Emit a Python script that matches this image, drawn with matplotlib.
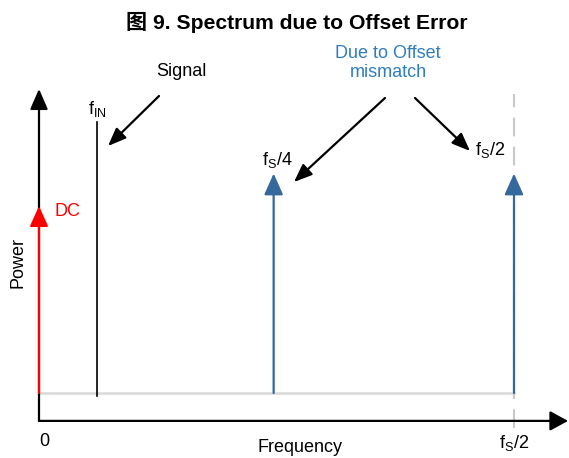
import matplotlib
matplotlib.use('Agg')
import matplotlib.pyplot as plt
from matplotlib.patches import ArrowStyle

plt.rcParams['font.family'] = ['Liberation Sans', 'Noto Sans CJK SC', 'DejaVu Sans']
plt.rcParams['mathtext.fontset'] = 'custom'
plt.rcParams['mathtext.rm'] = 'Liberation Sans'
plt.rcParams['mathtext.it'] = 'Liberation Sans'

# spectral lines: frequency (fraction of fs) and relative power (signal = 1)
tone_names = ['DC', 'Signal', 'fs/4 spur', 'fs/2 spur']
tone_freq = [0.0, 0.061, 0.247, 0.5]
tone_power = [0.69, 1.0, 0.81, 0.81]
noise_floor = 0.0
axis_level = -0.103
axis_top = 1.122
nyquist = 0.5

W, H = 569, 458
fig = plt.figure(figsize=(W / 100, H / 100), dpi=100)
ax = fig.add_axes([0, 0, 1, 1])
ax.set_xlim(-0.04105, 0.5579)
ax.set_ylim(-0.2399, 1.4502)
ax.axis('off')


def fxy(x, y):
    # pixel position -> figure fraction, used for the free-floating labels
    return (x / W, 1 - y / H)


def arrow(x0, y0, x1, y1, color, lw, hl, hw, z=3):
    ax.annotate('', xy=(x1, y1), xytext=(x0, y0),
                arrowprops=dict(arrowstyle=ArrowStyle('-|>', head_length=hl, head_width=hw),
                                color=color, lw=lw, shrinkA=0, shrinkB=0,
                                mutation_scale=20),
                annotation_clip=False, zorder=z)


# axes with arrow heads
arrow(0, axis_level, 0, axis_top, 'black', 1.6, 0.62, 0.27, z=2)
arrow(0, axis_level, 0.5569, axis_level, 'black', 1.6, 0.55, 0.3, z=2)

# noise floor and nyquist marker
ax.plot([0, nyquist], [noise_floor, noise_floor], color='#d9d9d9', lw=1.8, zorder=1)
ax.plot([nyquist, nyquist], [-0.129, 1.103], color='#c8c8c8', lw=1.5,
        linestyle=(0, (9, 5)), zorder=1)

# DC (red), signal (thin black line), offset spurs (blue)
arrow(tone_freq[0], noise_floor, tone_freq[0], tone_power[0], '#ff0000', 1.6, 0.62, 0.28)
ax.plot([tone_freq[1], tone_freq[1]], [-0.012, tone_power[1]], color='black', lw=1.2, zorder=3)
for f, p in zip(tone_freq[2:], tone_power[2:]):
    arrow(f, noise_floor, f, p, '#35689c', 1.6, 0.65, 0.29)

# pointer arrows from the labels
for (x0, y0, x1, y1) in [(159, 96, 108, 146), (385, 98, 294, 182), (415, 98, 470, 151)]:
    ax.annotate('', xy=fxy(x1, y1), xytext=fxy(x0, y0), xycoords='figure fraction',
                textcoords='figure fraction',
                arrowprops=dict(arrowstyle=ArrowStyle('-|>', head_length=0.55, head_width=0.22),
                                color='black', lw=1.6, shrinkA=0, shrinkB=0, mutation_scale=20))

fs = 13
fig.text(*fxy(297, 22), '图 9. Spectrum due to Offset Error', fontsize=15.2,
         fontweight='bold', ha='center', va='center')
fig.text(*fxy(181, 72), 'Signal', fontsize=fs, ha='center', va='center')
fig.text(*fxy(388, 63), 'Due to Offset\nmismatch', fontsize=fs, ha='center', va='center',
         color='#2f7dc0', linespacing=1.2)
fig.text(*fxy(97, 109), r'$\mathregular{f_{IN}}$', fontsize=fs, ha='center', va='center')
fig.text(*fxy(277, 160), r'$\mathregular{f_S/4}$', fontsize=fs, ha='center', va='center')
fig.text(*fxy(490, 150), r'$\mathregular{f_S/2}$', fontsize=fs, ha='center', va='center')
fig.text(*fxy(67, 212), 'DC', fontsize=fs, ha='center', va='center', color='#ff0000')
fig.text(*fxy(18, 262), 'Power', fontsize=fs, ha='center', va='center', rotation=90)
fig.text(*fxy(300, 448), 'Frequency', fontsize=fs, ha='center', va='center')
fig.text(*fxy(44, 442), '0', fontsize=fs, ha='center', va='center')
fig.text(*fxy(514, 443), r'$\mathregular{f_S/2}$', fontsize=fs, ha='center', va='center')

fig.savefig('out.png', dpi=100)
